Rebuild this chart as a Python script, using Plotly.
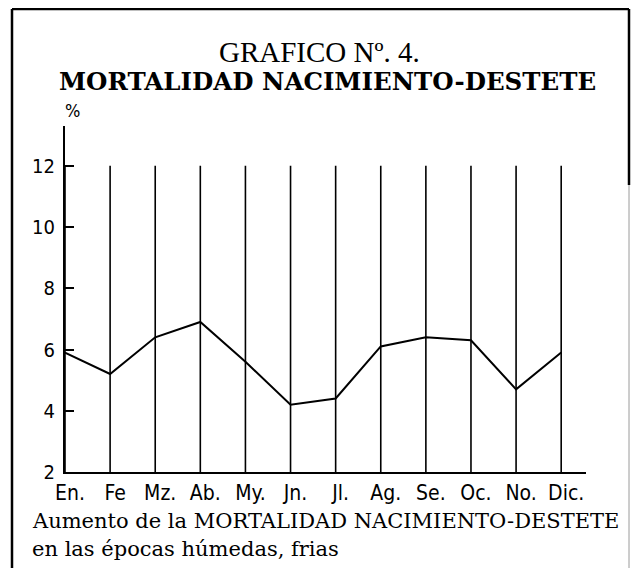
import plotly.graph_objects as go

months = ["En.", "Fe", "Mz.", "Ab.", "My.", "Jn.", "Jl.", "Ag.", "Se.", "Oc.", "No.", "Dic."]
mortality = [5.9, 5.2, 6.4, 6.9, 5.6, 4.2, 4.4, 6.1, 6.4, 6.3, 4.7, 5.9]
y_ticks = [2, 4, 6, 8, 10, 12]
grid_top = 12
grid_bottom = 2

# the page body has an 8px margin; work in window pixels and shift
OFF = 8
W, H = 631, 560
L, T = 65 - OFF, 126 - OFF
RIGHT_EDGE, BOTTOM_EDGE = 586 - OFF, 472 - OFF
R, B = W - RIGHT_EDGE, H - BOTTOM_EDGE
pw, ph = W - L - R, H - T - B

def px(x):
    return (x - OFF - L) / pw

def py(y):
    return (H - B - (y - OFF)) / ph

idx = list(range(len(months)))

fig = go.Figure()

vx, vy = [], []
for i in idx:
    vx += [i, i, None]
    vy += [grid_bottom, grid_top, None]
fig.add_trace(go.Scatter(x=vx, y=vy, mode="lines",
                         line=dict(color="black", width=1.6),
                         hoverinfo="skip", showlegend=False))

fig.add_trace(go.Scatter(x=idx, y=mortality, mode="lines",
                         line=dict(color="black", width=2),
                         showlegend=False))

SANS = "DejaVu Sans Condensed, Liberation Sans Narrow, DejaVu Sans, sans-serif"
SERIF = "DejaVu Serif, Liberation Serif, serif"

fig.update_layout(
    width=W, height=H, autosize=False,
    margin=dict(l=L, r=R, t=T, b=B),
    paper_bgcolor="white", plot_bgcolor="white",
    xaxis=dict(range=[0, 11.55], tickvals=idx, ticktext=months,
               showgrid=False, zeroline=False, showline=True,
               linecolor="black", linewidth=2, ticks="",
               tickfont=dict(family=SANS, size=21, color="black"),
               ticklabelstandoff=1, ticklabelshift=5),
    yaxis=dict(range=[2, 13.3], tickvals=y_ticks,
               showgrid=False, zeroline=False, showline=True,
               linecolor="black", linewidth=2, ticks="inside",
               ticklen=9, tickwidth=1.5, tickcolor="black",
               tickfont=dict(family=SANS, size=20, color="black"),
               ticklabelstandoff=4),
)

ann = [
    dict(text="GRAFICO Nº. 4.", x=px(319), y=py(52),
         font=dict(family="Liberation Serif, serif", size=29, color="black")),
    dict(text="<b>MORTALIDAD NACIMIENTO-DESTETE</b>", x=px(327), y=py(82),
         font=dict(family=SERIF, size=24.5, color="black")),
    dict(text="%", x=px(72), y=py(111),
         font=dict(family=SANS, size=18, color="black")),
]
for a in ann:
    fig.add_annotation(xref="paper", yref="paper", showarrow=False,
                       xanchor="center", yanchor="middle", **a)

fig.add_annotation(xref="paper", yref="paper", showarrow=False, xanchor="left", yanchor="middle",
                   x=px(30), y=py(521), text="Aumento de la MORTALIDAD NACIMIENTO-DESTETE",
                   font=dict(family=SERIF, size=21, color="black"))
fig.add_annotation(xref="paper", yref="paper", showarrow=False, xanchor="left", yanchor="middle",
                   x=px(30), y=py(549), text="en las épocas húmedas, frias",
                   font=dict(family=SERIF, size=21, color="black"))

frame = [
    ((12, 9, 629, 9), "black", 2.5),
    ((12, 9, 12, 568), "black", 2.5),
    ((629, 9, 629, 185), "black", 2.5),
    ((629, 185, 629, 568), "#9a9a9a", 1),
]
for (x0, y0, x1, y1), col, w in frame:
    fig.add_shape(type="line", xref="paper", yref="paper",
                  x0=px(x0), y0=py(y0), x1=px(x1), y1=py(y1),
                  line=dict(color=col, width=w))

fig.write_html("out.html")
